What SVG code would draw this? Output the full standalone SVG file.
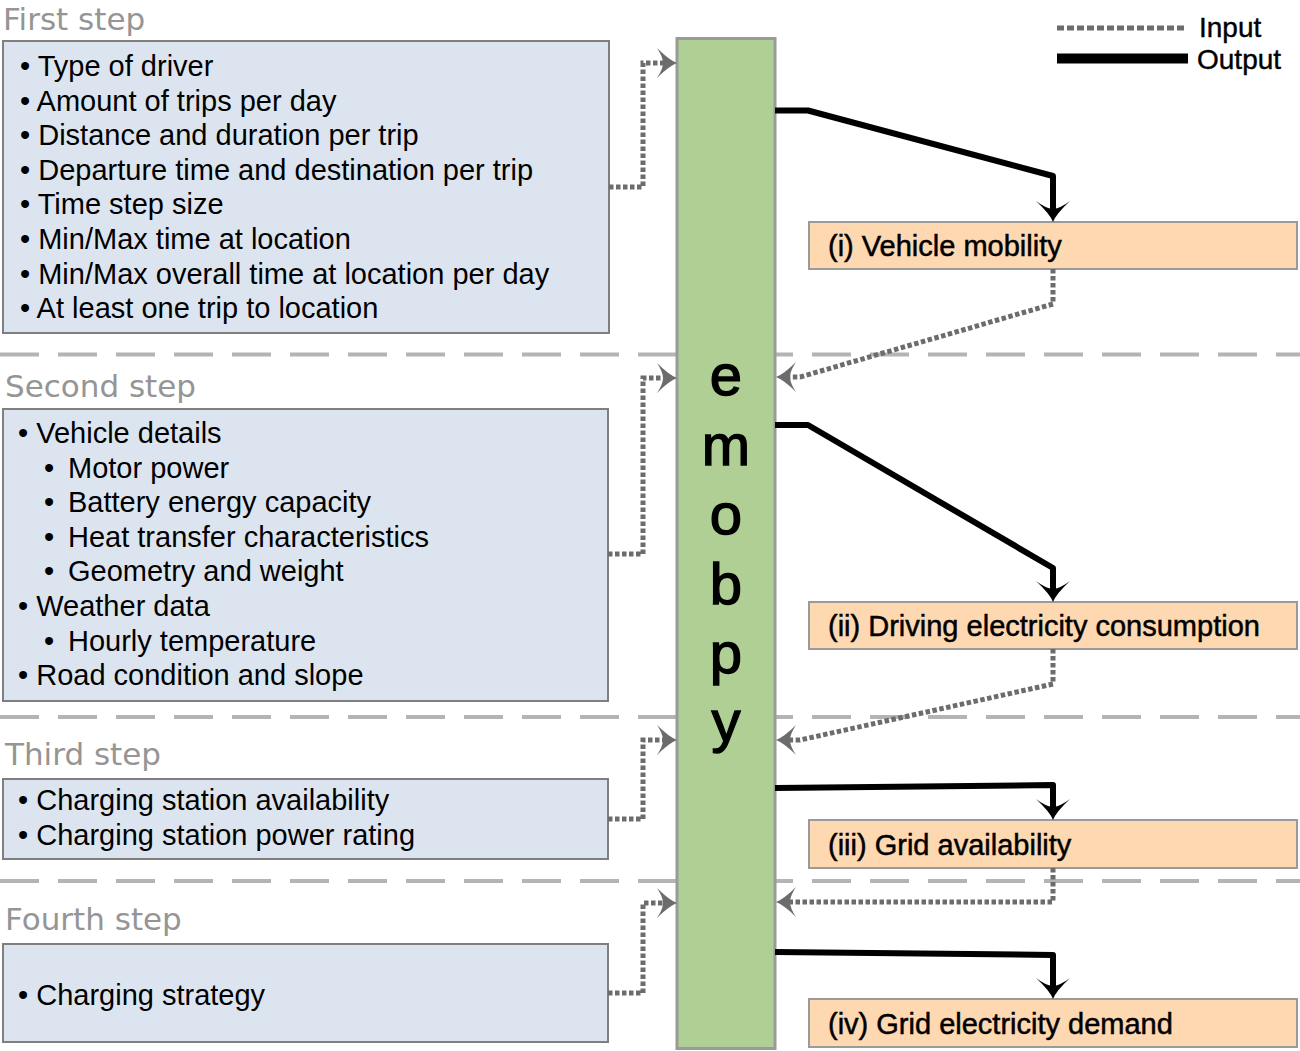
<svg xmlns="http://www.w3.org/2000/svg" width="1300" height="1051" viewBox="0 0 1300 1051">
<style>
  .sep{fill:none;stroke:#b4b4b4;stroke-width:4;stroke-dasharray:39 19}
  .title{font-family:"DejaVu Sans",sans-serif;font-size:31px;fill:#959595}
  .box{fill:#dce5ef;stroke:#7f7f7f;stroke-width:2}
  .item{font-family:"Liberation Sans",Arial,sans-serif;font-size:29px;fill:#000}
  .res{fill:#fdd8b1;stroke:#9a9a9a;stroke-width:2}
  .rtext{font-family:"Liberation Sans",Arial,sans-serif;font-size:29px;fill:#000;stroke:#000;stroke-width:0.5}
  .bar{fill:#afcf95;stroke:#9a9a9a;stroke-width:3}
  .letter{font-family:"Liberation Sans",Arial,sans-serif;font-size:58px;fill:#000;stroke:#000;stroke-width:1.4;text-anchor:middle}
  .in{fill:none;stroke:#6c6c6c;stroke-width:5;stroke-dasharray:4.5 2.5;marker-end:url(#arrG)}
  .out{fill:none;stroke:#000;stroke-width:6;stroke-linejoin:round;marker-end:url(#arrB)}
  .leg{font-family:"Liberation Sans",Arial,sans-serif;font-size:28px;fill:#000;stroke:#000;stroke-width:0.4}
</style>
<defs>
  <marker id="arrG" markerUnits="userSpaceOnUse" viewBox="-2 -17 25 34" markerWidth="25" markerHeight="34" refX="6" refY="0" orient="auto">
    <path d="M20,0 Q12,-3 0,-15 Q6,-6 6,0 Q6,6 0,15 Q12,3 20,0 Z" fill="#6c6c6c"/>
  </marker>
  <marker id="arrB" markerUnits="userSpaceOnUse" viewBox="-2 -19 26 38" markerWidth="26" markerHeight="38" refX="8" refY="0" orient="auto">
    <path d="M21,0 Q13,-3 0,-17 Q7,-8 8,0 Q7,8 0,17 Q13,3 21,0 Z" fill="#000"/>
  </marker>
</defs>
<rect width="1300" height="1051" fill="#fff"/>

<g id="separators">
  <line class="sep" x1="0" y1="354.5" x2="1300" y2="354.5"/>
  <line class="sep" x1="0" y1="717" x2="1300" y2="717"/>
  <line class="sep" x1="0" y1="881" x2="1300" y2="881"/>
</g>

<g id="step1">
  <text class="title" x="3" y="30">First step</text>
  <rect class="box" x="3" y="41" width="606" height="292"/>
  <text class="item" x="20" y="76">• Type of driver</text>
  <text class="item" x="20" y="110.6">• Amount of trips per day</text>
  <text class="item" x="20" y="145.2">• Distance and duration per trip</text>
  <text class="item" x="20" y="179.8">• Departure time and destination per trip</text>
  <text class="item" x="20" y="214.4">• Time step size</text>
  <text class="item" x="20" y="249">• Min/Max time at location</text>
  <text class="item" x="20" y="283.6">• Min/Max overall time at location per day</text>
  <text class="item" x="20" y="318.2">• At least one trip to location</text>
</g>

<g id="step2">
  <text class="title" x="5" y="397">Second step</text>
  <rect class="box" x="3" y="409" width="605" height="292"/>
  <text class="item" x="18" y="443">• Vehicle details</text>
  <text class="item" x="44" y="477.6">•</text><text class="item" x="68" y="477.6">Motor power</text>
  <text class="item" x="44" y="512.2">•</text><text class="item" x="68" y="512.2">Battery energy capacity</text>
  <text class="item" x="44" y="546.8">•</text><text class="item" x="68" y="546.8">Heat transfer characteristics</text>
  <text class="item" x="44" y="581.4">•</text><text class="item" x="68" y="581.4">Geometry and weight</text>
  <text class="item" x="18" y="616">• Weather data</text>
  <text class="item" x="44" y="650.6">•</text><text class="item" x="68" y="650.6">Hourly temperature</text>
  <text class="item" x="18" y="685.2">• Road condition and slope</text>
</g>

<g id="step3">
  <text class="title" x="5" y="765">Third step</text>
  <rect class="box" x="3" y="779" width="605" height="80"/>
  <text class="item" x="18" y="810">• Charging station availability</text>
  <text class="item" x="18" y="845">• Charging station power rating</text>
</g>

<g id="step4">
  <text class="title" x="5" y="930">Fourth step</text>
  <rect class="box" x="3" y="944" width="605" height="98"/>
  <text class="item" x="18" y="1005">• Charging strategy</text>
</g>

<g id="emobpy">
  <rect class="bar" x="677" y="38.5" width="98" height="1010"/>
  <text class="letter" x="726" y="395">e</text>
  <text class="letter" x="726" y="465">m</text>
  <text class="letter" x="726" y="534">o</text>
  <text class="letter" x="726" y="604">b</text>
  <text class="letter" x="726" y="673">p</text>
  <text class="letter" x="726" y="741">y</text>
</g>

<g id="result1">
  <rect class="res" x="809" y="222" width="488" height="47"/>
  <text class="rtext" x="828" y="256">(i) Vehicle mobility</text>
</g>
<g id="result2">
  <rect class="res" x="809" y="602" width="488" height="47"/>
  <text class="rtext" x="828" y="636">(ii) Driving electricity consumption</text>
</g>
<g id="result3">
  <rect class="res" x="809" y="820" width="488" height="48"/>
  <text class="rtext" x="828" y="855">(iii) Grid availability</text>
</g>
<g id="result4">
  <rect class="res" x="809" y="999" width="488" height="48"/>
  <text class="rtext" x="828" y="1034">(iv) Grid electricity demand</text>
</g>

<g id="connectors">
  <path class="in" d="M609,187 H643 V63 H663"/>
  <path class="in" d="M608,554 H643 V378 H663"/>
  <path class="in" d="M608,819 H643 V740 H663"/>
  <path class="in" d="M608,993 H643 V903 H663"/>
  <path class="out" d="M775,110.5 H808 L1053,176 V209"/>
  <path class="out" d="M775,425 H808 L1053,568 V589"/>
  <path class="out" d="M775,788 L1053,785 V807"/>
  <path class="out" d="M775,952 L1053,955 V986"/>
  <path class="in" d="M1053,269 V304 L800,377 H790"/>
  <path class="in" d="M1053,649 V684 L800,740 H790"/>
  <path class="in" d="M1053,868 V902 H790"/>
</g>

<g id="legend">
  <line x1="1057" y1="28" x2="1185" y2="28" stroke="#6c6c6c" stroke-width="5" stroke-dasharray="7 3"/>
  <line x1="1057" y1="58.5" x2="1188" y2="58.5" stroke="#000" stroke-width="10"/>
  <text class="leg" x="1199" y="37">Input</text>
  <text class="leg" x="1197" y="69">Output</text>
</g>
</svg>
